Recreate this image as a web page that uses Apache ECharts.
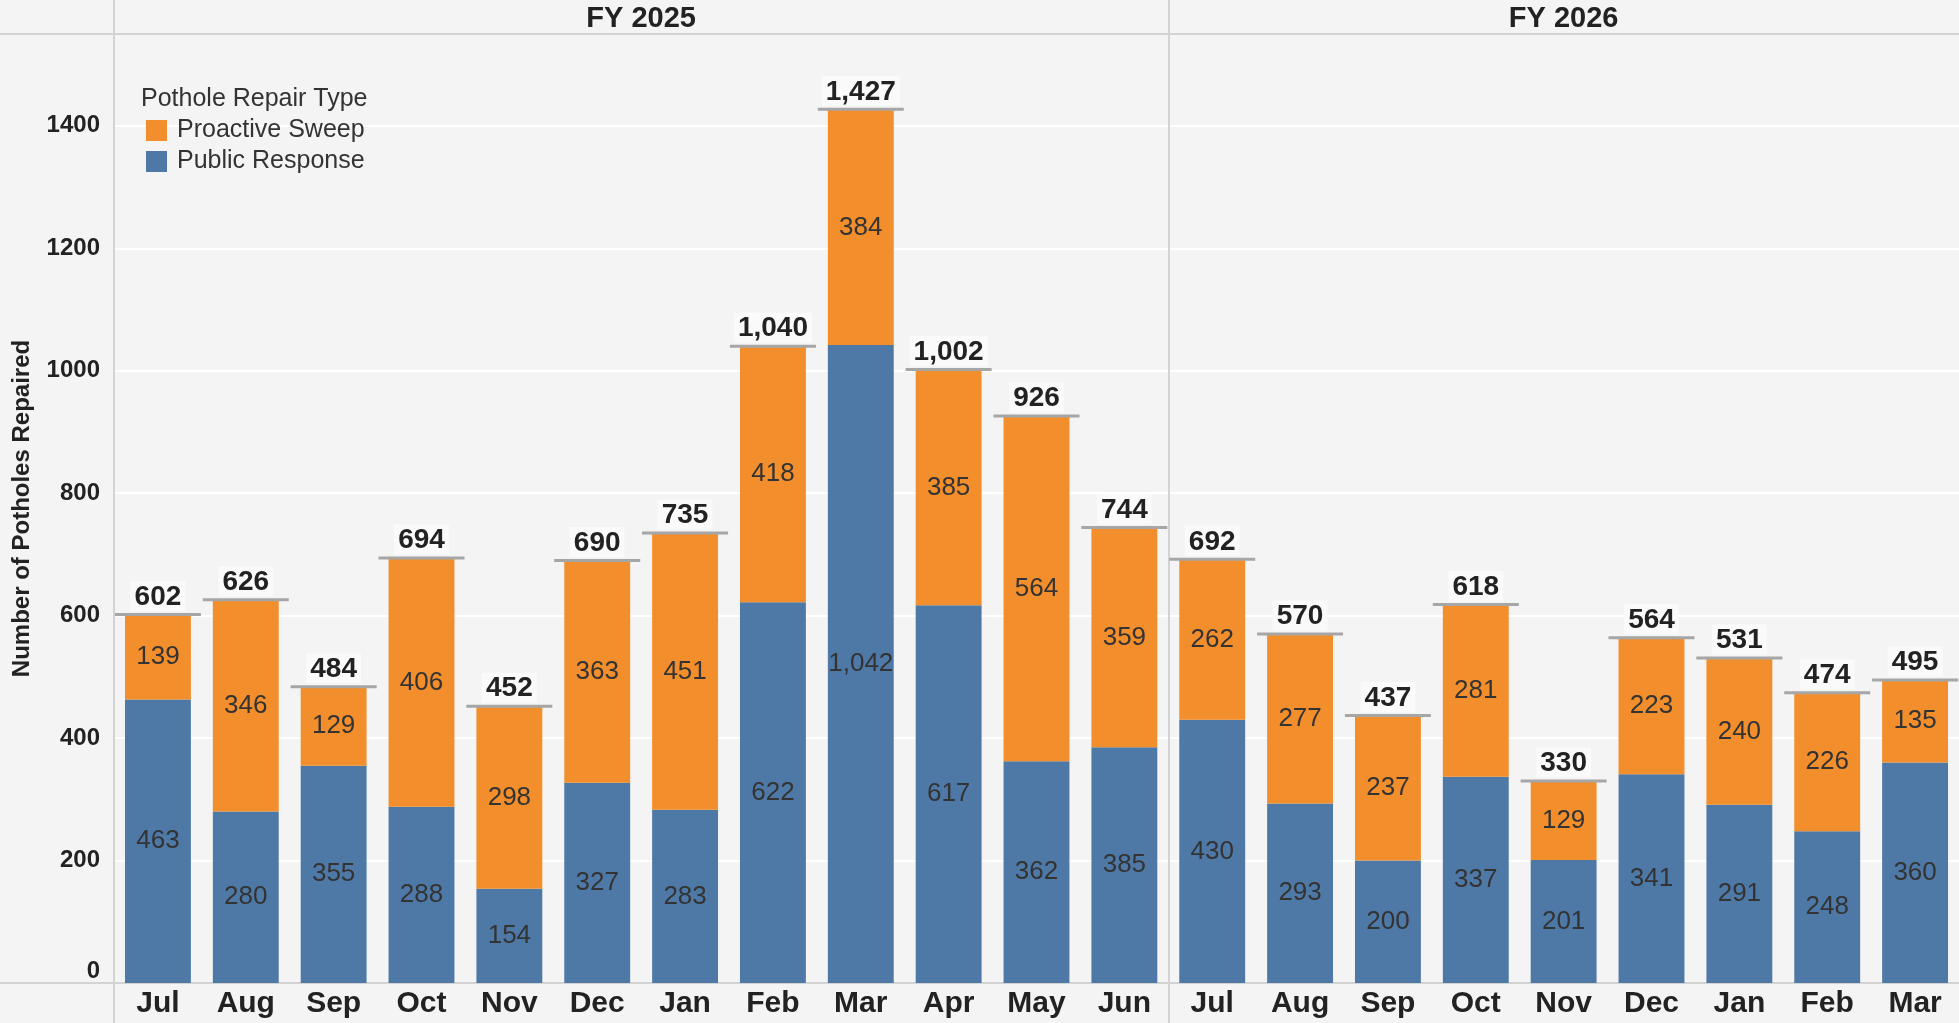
<!DOCTYPE html>
<html>
<head>
<meta charset="utf-8">
<title>Potholes Repaired</title>
<script src="https://cdn.jsdelivr.net/npm/echarts@6/dist/echarts.min.js"></script>
<style>
  html, body { margin: 0; padding: 0; background: #f4f4f4; }
  #chart { width: 1959px; height: 1023px; }
</style>
</head>
<body>
<div id="chart"></div>
<script>
// months, left to right, over both fiscal years
var months = ['Jul', 'Aug', 'Sep', 'Oct', 'Nov', 'Dec', 'Jan', 'Feb', 'Mar', 'Apr', 'May', 'Jun',
  'Jul', 'Aug', 'Sep', 'Oct', 'Nov', 'Dec', 'Jan', 'Feb', 'Mar']
var fiscalYears = ['FY 2025', 'FY 2026']
var monthsPerYear = [12, 9]
var publicResponse = [463, 280, 355, 288, 154, 327, 283, 622, 1042, 617, 362, 385,
  430, 293, 200, 337, 201, 341, 291, 248, 360]
var proactiveSweep = [139, 346, 129, 406, 298, 363, 451, 418, 384, 385, 564, 359,
  262, 277, 237, 281, 129, 223, 240, 226, 135]
var totals = [602, 626, 484, 694, 452, 690, 735, 1040, 1427, 1002, 926, 744,
  692, 570, 437, 618, 330, 564, 531, 474, 495]
var yMax = 1550
var yStep = 200

var lineGrey = '#d3d3d3'
var textDark = '#222'

// where each fiscal year starts and its middle, in month units
var yearStarts = []
var yearCenters = []
var acc = 0
monthsPerYear.forEach(function (n) {
  yearStarts.push(acc)
  yearCenters.push(acc + n / 2)
  acc += n
})

function fmt (v) {
  return Number(v).toLocaleString('en-US')
}

var chart = echarts.init(document.getElementById('chart'))

var option = {
  animation: false,
  backgroundColor: '#f4f4f4',
  textStyle: { fontFamily: 'Liberation Sans, Arial, Helvetica, sans-serif' },
  title: {
    text: 'Pothole Repair Type',
    left: 141,
    top: 87,
    padding: 0,
    textStyle: { fontSize: 25, fontWeight: 'normal', color: '#333' }
  },
  legend: {
    data: ['Proactive Sweep', 'Public Response'],
    orient: 'vertical',
    left: 146,
    top: 118,
    padding: 0,
    itemWidth: 21,
    itemHeight: 21,
    itemGap: 6,
    icon: 'rect',
    selectedMode: false,
    textStyle: { fontSize: 25, color: '#333', padding: [0, 0, 0, 5] }
  },
  grid: { left: 114, right: 0, top: 34, bottom: 40 },
  // left stubs of the header and baseline rules
  graphic: [
    { type: 'rect', shape: { x: 0, y: 33, width: 114, height: 2 }, style: { fill: lineGrey }, silent: true },
    { type: 'rect', shape: { x: 0, y: 982, width: 114, height: 2 }, style: { fill: lineGrey }, silent: true }
  ],
  xAxis: [
    {
      type: 'category',
      data: months,
      position: 'bottom',
      axisLine: { lineStyle: { color: lineGrey, width: 2 } },
      axisTick: { show: false },
      axisLabel: {
        interval: 0,
        fontSize: 30,
        fontWeight: 'bold',
        color: textDark,
        margin: 21,
        verticalAlign: 'middle'
      }
    },
    {
      // fiscal year headers
      type: 'value',
      min: 0,
      max: months.length,
      position: 'top',
      axisLine: { show: true, lineStyle: { color: lineGrey, width: 2 } },
      axisTick: { show: true, customValues: yearStarts, length: 34, lineStyle: { color: lineGrey, width: 2 } },
      axisLabel: {
        customValues: yearCenters,
        formatter: function (v) { return fiscalYears[yearCenters.indexOf(v)] },
        fontSize: 29,
        fontWeight: 'bold',
        color: textDark,
        margin: 15,
        verticalAlign: 'middle'
      },
      splitLine: { show: false }
    },
    {
      // year dividers below the baseline
      type: 'value',
      min: 0,
      max: months.length,
      position: 'bottom',
      axisLine: { show: false },
      axisTick: { show: true, customValues: yearStarts, length: 40, lineStyle: { color: lineGrey, width: 2 } },
      axisLabel: { show: false },
      splitLine: { show: false }
    }
  ],
  yAxis: {
    type: 'value',
    min: 0,
    max: yMax,
    interval: yStep,
    name: 'Number of Potholes Repaired',
    nameLocation: 'middle',
    nameGap: 80,
    nameTextStyle: { fontSize: 24, fontWeight: 'bold', color: textDark },
    axisLine: { show: true, lineStyle: { color: lineGrey, width: 2 } },
    axisTick: { show: false },
    splitLine: { lineStyle: { color: '#ffffff', width: 2 } },
    axisLabel: {
      fontSize: 24,
      fontWeight: 'bold',
      color: textDark,
      margin: 14,
      showMaxLabel: false,
      formatter: function (v) { return v === 0 ? '{zero|0}' : String(v) },
      rich: {
        zero: { fontSize: 24, fontWeight: 'bold', color: textDark, padding: [0, 0, 24, 0] }
      }
    }
  },
  series: [
    {
      name: 'Public Response',
      type: 'bar',
      stack: 'total',
      data: publicResponse,
      barWidth: '75%',
      itemStyle: { color: '#4e79a7' },
      label: {
        show: true,
        position: 'inside',
        fontSize: 26,
        color: '#333',
        formatter: function (p) { return fmt(p.value) }
      }
    },
    {
      name: 'Proactive Sweep',
      type: 'bar',
      stack: 'total',
      data: proactiveSweep,
      barWidth: '75%',
      itemStyle: { color: '#f28e2b' },
      label: {
        show: true,
        position: 'inside',
        fontSize: 26,
        color: '#333',
        formatter: function (p) { return fmt(p.value) }
      }
    },
    {
      // total reference line and label on top of each bar
      name: 'Total',
      type: 'scatter',
      data: totals,
      symbol: 'rect',
      symbolSize: [86, 3],
      itemStyle: { color: '#a6a6a6', opacity: 1 },
      z: 5,
      silent: true,
      label: {
        show: true,
        position: 'top',
        distance: 2,
        fontSize: 28,
        fontWeight: 'bold',
        color: textDark,
        backgroundColor: '#fafafa',
        padding: [2, 4, 0, 4],
        formatter: function (p) { return fmt(totals[p.dataIndex]) }
      }
    },
    {
      // vertical divider between fiscal years
      type: 'line',
      xAxisIndex: 1,
      data: [[yearStarts[1], 0]],
      symbol: 'none',
      silent: true,
      markLine: {
        silent: true,
        symbol: 'none',
        label: { show: false },
        lineStyle: { color: lineGrey, width: 2, type: 'solid' },
        data: yearStarts.slice(1).map(function (x) { return { xAxis: x } })
      }
    }
  ]
}

chart.setOption(option)
</script>
</body>
</html>
